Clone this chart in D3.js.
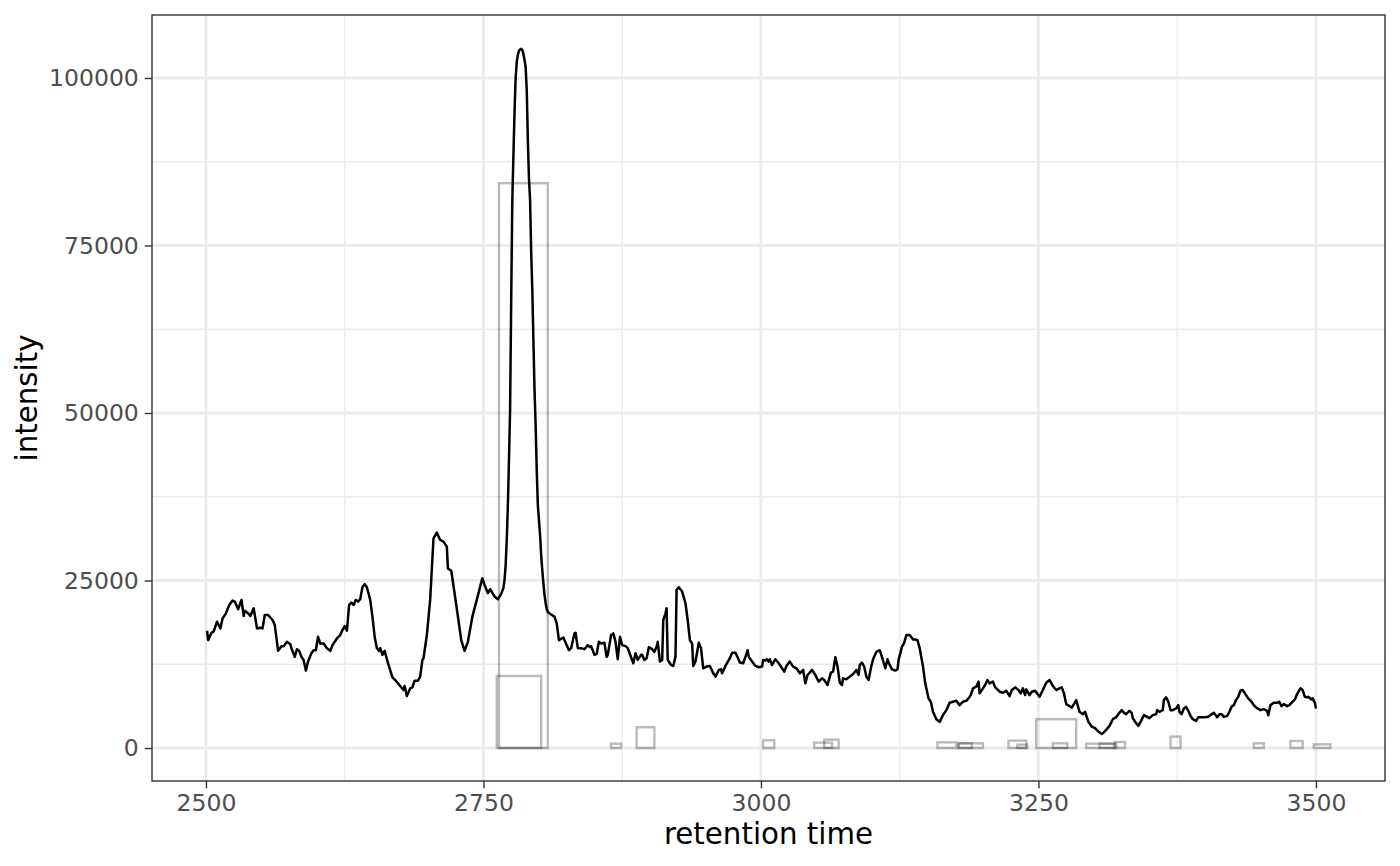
<!DOCTYPE html>
<html>
<head>
<meta charset="utf-8">
<script src="https://cdn.jsdelivr.net/npm/d3@7"></script>
<style>
html,body{margin:0;padding:0;background:#fff;}
svg{display:block;font-family:"DejaVu Sans",sans-serif;}
</style>
</head>
<body>
<svg id="chart" width="1400" height="866"></svg>
<script>
// ---- data ----
const rtTime = [2501,2502,2505,2507,2510,2513,2515,2518,2521,2524,2526,2529,2532,2534,2535,2538,2540,2543,2546,2549,2551,2553,2556,2560,2562,2565,2568,2570,2573,2576,2577,2580,2582,2584,2586,2588,2590,2592,2595,2597,2599,2601,2603,2606,2609,2612,2614,2618,2621,2623,2625,2627,2629,2631,2633,2635,2637,2639,2641,2643,2645,2648,2650,2652,2654,2656,2657,2659,2661,2664,2668,2671,2675,2678,2679,2681,2684,2686,2688,2691,2693,2695,2696,2699,2702,2705,2708,2711,2714,2717,2718,2721,2724,2727,2730,2733,2736,2740,2744,2747,2749,2751,2754,2756,2760,2763,2766,2768,2769,2770,2771,2772,2773,2774,2775,2776,2777,2778,2779,2780,2781,2782,2783,2784,2785,2786,2787,2788,2789,2790,2791,2792,2793,2794,2795,2796,2797,2798,2799,2800,2801,2802,2803,2804,2805,2806,2807,2808,2809,2814,2816,2818,2822,2825,2827,2829,2832,2833,2835,2838,2841,2844,2846,2847,2850,2852,2854,2856,2859,2861,2862,2865,2867,2869,2871,2873,2875,2878,2880,2883,2885,2887,2889,2892,2893,2895,2897,2899,2902,2904,2906,2907,2909,2911,2912,2914,2915,2916,2919,2921,2923,2924,2926,2929,2932,2934,2936,2938,2939,2941,2944,2946,2948,2951,2954,2957,2959,2962,2964,2965,2968,2972,2974,2977,2979,2981,2984,2986,2988,2989,2992,2995,2998,3001,3002,3004,3005,3007,3008,3010,3013,3016,3019,3021,3023,3026,3029,3032,3035,3038,3040,3042,3046,3049,3052,3055,3057,3060,3063,3065,3067,3069,3071,3073,3074,3077,3080,3083,3086,3088,3089,3091,3093,3095,3097,3099,3101,3104,3107,3109,3112,3114,3115,3118,3121,3123,3124,3127,3129,3131,3134,3137,3139,3141,3143,3146,3148,3151,3153,3155,3158,3161,3164,3167,3170,3173,3176,3179,3182,3185,3187,3189,3191,3194,3196,3197,3200,3202,3204,3206,3209,3211,3213,3215,3218,3221,3224,3226,3229,3232,3234,3236,3238,3239,3242,3244,3247,3251,3254,3257,3260,3263,3266,3269,3271,3273,3275,3280,3282,3284,3287,3290,3292,3295,3298,3301,3304,3307,3308,3311,3314,3317,3320,3322,3325,3327,3329,3332,3334,3335,3338,3340,3342,3345,3348,3350,3353,3356,3357,3359,3362,3363,3365,3367,3369,3371,3374,3376,3377,3379,3381,3383,3385,3387,3389,3392,3394,3397,3400,3403,3406,3408,3411,3413,3415,3417,3420,3422,3424,3426,3428,3430,3432,3434,3436,3439,3442,3444,3446,3450,3453,3456,3457,3459,3462,3465,3467,3469,3471,3474,3476,3478,3481,3483,3486,3488,3490,3492,3493,3496,3497,3499,3500];
const intensity = [17500,16100,17200,17400,18850,17850,19350,20100,21350,22000,21850,20700,22100,19700,20500,20100,19700,20850,17850,17950,17850,19850,19850,19100,18350,14500,15200,15200,15850,15500,14900,13600,14750,14500,13600,13150,11550,12900,14150,14600,14600,16600,15600,15600,14900,14500,15350,16350,16850,17600,18200,17500,21350,21700,21350,22100,21850,22200,24050,24450,24000,22100,19600,16600,14900,14500,14900,13900,14500,12650,10550,10050,9250,8650,9250,7750,8900,9050,10050,10050,10650,13150,13400,16850,22100,31300,32150,31050,30800,30050,26800,26450,23100,19600,16100,14500,15850,19600,22100,24050,25350,24350,23100,23700,22600,22200,23000,23900,25100,27300,31050,36250,43000,50450,66850,81800,88500,94900,100000,102400,103450,104050,104250,104350,104200,103600,102700,101650,98200,90750,85050,81800,74050,68350,60900,53450,48200,41500,36250,34050,31800,28800,26550,24600,22850,21650,20750,20300,20150,19600,18600,16100,16500,15350,14600,14900,17100,17200,14900,14900,14750,15350,15050,15200,13900,14050,15850,15600,15700,13600,13900,16850,17100,15850,13250,16600,15350,15200,14900,13550,12650,14150,13150,13900,13900,13150,13400,15050,14750,14350,15100,15850,12900,13150,19100,20100,20850,13150,12400,12250,13600,23600,24000,23350,21600,19100,16100,15600,12250,12900,15700,14900,11900,12150,12250,11150,10650,11650,11750,11150,12250,13400,14200,14200,13550,12750,12650,13600,14600,13600,12900,12250,12050,12150,13150,13050,13250,12900,13250,12400,13250,12650,11900,11400,12250,12900,12150,11900,11150,11650,9650,10900,11650,10900,9900,10400,10150,9400,11250,11400,13550,12150,9750,9400,10400,10250,10650,11050,11650,10900,12400,12750,12150,10650,10150,11900,13250,14350,14600,13600,11900,13250,12750,11750,11550,11750,13150,15100,15700,16850,16850,16200,16200,16100,14900,12150,9650,7400,6900,5400,4300,3900,4900,5650,6750,6900,7050,6400,6900,7050,7400,7900,8900,9150,9900,8150,8900,9400,10150,9650,9900,9050,8750,8400,8250,8550,7750,8650,9050,8650,8150,8900,7900,8750,7900,8400,8550,7650,8650,9750,10150,9250,8650,8900,9050,8150,6550,6050,6550,7150,5400,5050,5400,3900,3200,2950,2450,2100,2200,2700,3300,4300,4600,5050,5650,5250,5050,5550,5250,4450,3700,3300,3900,4900,4650,4450,4900,5050,5650,5400,5650,7150,7550,6900,5650,5650,5900,6400,5400,5050,5900,6150,5550,4800,4300,4050,4600,4600,4600,4650,5050,5250,4600,5050,5050,4650,4800,5400,6150,6400,7150,7650,8550,8650,8150,7400,6900,6400,6050,5650,5800,5550,4900,6400,6750,6750,6900,6250,6550,6250,6400,6750,7250,8050,8900,8650,7650,7550,7650,7250,7400,6750,5900];

// detected peak rectangles (rt min, rt max, max intensity)
const peakRtMin = [2764,2762,2865,2888,3002,3048,3057,3159,3178,3178,3223,3231,3248,3263,3293,3305,3319,3369,3444,3477,3498];
const peakRtMax = [2808,2802,2874,2904,3012,3064,3070,3176,3200,3190,3239,3240,3284,3276,3320,3318,3328,3378,3453,3488,3513];
const peakMaxInt = [84300,10750,650,3100,1150,800,1250,850,700,700,1100,500,4300,700,650,650,900,1700,700,1050,550];

const xTicks = [2500, 2750, 3000, 3250, 3500];
const xMinor = [2625, 2875, 3125, 3375];
const yTicks = [0, 25000, 50000, 75000, 100000];
const yMinor = [12500, 37500, 62500, 87500];
const xTitle = "retention time";
const yTitle = "intensity";

// ---- layout ----
const P = {left: 152, right: 1385, top: 15, bottom: 781};
const svg = d3.select("#chart");

const x = d3.scaleLinear().domain([2451.4, 3562.2]).range([P.left, P.right]);
const y = d3.scaleLinear().domain([-4925, 109403]).range([P.bottom, P.top]);

// grid
const grid = svg.append("g");
grid.selectAll(".xmin").data(xMinor).join("line")
  .attr("x1", d => x(d)).attr("x2", d => x(d)).attr("y1", P.top).attr("y2", P.bottom)
  .attr("stroke", "#EBEBEB").attr("stroke-width", 1.4);
grid.selectAll(".ymin").data(yMinor).join("line")
  .attr("y1", d => y(d)).attr("y2", d => y(d)).attr("x1", P.left).attr("x2", P.right)
  .attr("stroke", "#EBEBEB").attr("stroke-width", 1.4);
grid.selectAll(".xmaj").data(xTicks).join("line")
  .attr("x1", d => x(d)).attr("x2", d => x(d)).attr("y1", P.top).attr("y2", P.bottom)
  .attr("stroke", "#EBEBEB").attr("stroke-width", 2.8);
grid.selectAll(".ymaj").data(yTicks).join("line")
  .attr("y1", d => y(d)).attr("y2", d => y(d)).attr("x1", P.left).attr("x2", P.right)
  .attr("stroke", "#EBEBEB").attr("stroke-width", 2.8);

// rectangles
const rects = peakRtMin.map((d, i) => ({x0: d, x1: peakRtMax[i], v: peakMaxInt[i]}));
svg.append("g").selectAll("rect").data(rects).join("rect")
  .attr("x", d => x(d.x0)).attr("width", d => x(d.x1) - x(d.x0))
  .attr("y", d => y(d.v)).attr("height", d => y(0) - y(d.v))
  .attr("fill", "none").attr("stroke", "#000").attr("stroke-opacity", 0.27)
  .attr("stroke-width", 2.4);

// chromatogram line
const pts = rtTime.map((t, i) => [t, intensity[i]]);
svg.append("path").datum(pts)
  .attr("d", d3.line().x(d => x(d[0])).y(d => y(d[1])))
  .attr("fill", "none").attr("stroke", "#000").attr("stroke-width", 2.5)
  .attr("stroke-linejoin", "round");

// panel border
svg.append("rect").attr("x", P.left).attr("y", P.top)
  .attr("width", P.right - P.left).attr("height", P.bottom - P.top)
  .attr("fill", "none").attr("stroke", "#333333").attr("stroke-width", 1.4);

// axes
const xAxis = svg.append("g").attr("transform", `translate(0,${P.bottom})`)
  .call(d3.axisBottom(x).tickValues(xTicks).tickSize(7.3).tickPadding(5.9).tickFormat(d3.format("d")));
const yAxis = svg.append("g").attr("transform", `translate(${P.left},0)`)
  .call(d3.axisLeft(y).tickValues(yTicks).tickSize(7.3).tickPadding(5.9).tickFormat(d3.format("d")));
[xAxis, yAxis].forEach(a => {
  a.select(".domain").remove();
  a.selectAll(".tick line").attr("stroke", "#333333").attr("stroke-width", 1.4);
  a.selectAll(".tick text").attr("fill", "#4D4D4D")
    .style("font-family", "'DejaVu Sans', sans-serif").style("font-size", "23.5px");
});

// titles
svg.append("text").attr("x", (P.left + P.right) / 2).attr("y", 844)
  .attr("text-anchor", "middle").attr("fill", "#000")
  .style("font-size", "29.3px").text(xTitle);
svg.append("text").attr("transform", `translate(37,${(P.top + P.bottom) / 2}) rotate(-90)`)
  .attr("text-anchor", "middle").attr("fill", "#000")
  .style("font-size", "29.3px").text(yTitle);
</script>
</body>
</html>
